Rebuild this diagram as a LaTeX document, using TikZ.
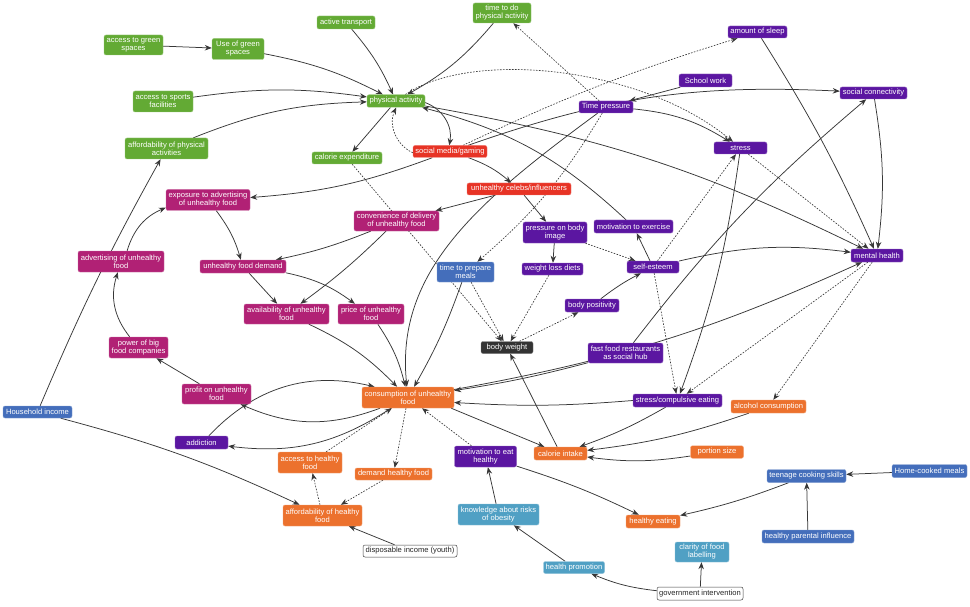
\documentclass[tikz,border=0pt]{standalone}
\usepackage{fontspec}
\setmainfont{Liberation Sans}
\usetikzlibrary{arrows.meta}
\pgfdeclarelayer{bg}
\pgfsetlayers{bg,main}
\definecolor{cgr}{RGB}{99,170,52}
\definecolor{cred}{RGB}{231,51,37}
\definecolor{cmag}{RGB}{177,33,117}
\definecolor{cpur}{RGB}{91,22,161}
\definecolor{cora}{RGB}{236,113,45}
\definecolor{cblu}{RGB}{68,110,187}
\definecolor{clbl}{RGB}{80,160,196}
\definecolor{cgry}{RGB}{51,51,51}
\definecolor{edgec}{RGB}{55,55,55}
\newcommand\nfnt{\fontsize{7.6}{8}\selectfont}
\tikzset{
 box/.style={rectangle, rounded corners=2pt, fill=#1, draw=#1!65!white, line width=0.4pt, text=white, font=\nfnt, align=center, inner xsep=1.5pt, inner ysep=1pt},
 wbox/.style={rectangle, rounded corners=2pt, fill=white, draw=black!75, line width=0.5pt, text=black!85, font=\nfnt, align=center, inner xsep=1.5pt, inner ysep=1pt},
 sz/.style 2 args={minimum width=#1pt, minimum height=#2pt},
 lnk/.style={draw=edgec, line width=0.75pt, -{Stealth[length=7pt,width=5.5pt]}},
 lnkd/.style={lnk, line width=0.65pt, dash pattern=on 1.6pt off 1.4pt},
}
\begin{document}
\begin{tikzpicture}[x=1pt,y=1pt]
\useasboundingbox (0,0) rectangle (970,-607);
% green
\node[box=cgr, sz={59}{20}] (gs) at (133.5,-45) {access to green\\spaces};
\node[box=cgr, sz={52}{21}] (ug) at (238,-49) {Use of green\\spaces};
\node[box=cgr, sz={58}{13}] (at) at (346,-22.5) {active transport};
\node[box=cgr, sz={58}{20}] (tpa) at (502,-13) {time to do\\physical activity};
\node[box=cgr, sz={60}{21}] (sf) at (163,-101.5) {access to sports\\facilities};
\node[box=cgr, sz={83}{21}] (apa) at (166.5,-148.5) {affordability of physical\\activities};
\node[box=cgr, sz={58}{12.5}] (pa) at (396,-101) {physical activity};
\node[box=cgr, sz={70}{12}] (ce) at (347,-158) {calorie expenditure};
% red
\node[box=cred, sz={74}{12}] (sm) at (450,-151.5) {social media/gaming};
\node[box=cred, sz={104}{12}] (uc) at (519,-189) {unhealthy celebs/influencers};
% magenta
\node[box=cmag, sz={84}{21}] (ea) at (208,-200) {exposure to advertising\\of unhealthy food};
\node[box=cmag, sz={85}{20}] (cd) at (396.5,-221) {convenience of delivery\\of unhealthy food};
\node[box=cmag, sz={86}{21}] (adv) at (121,-261.5) {advertising of unhealthy\\food};
\node[box=cmag, sz={86}{13}] (ud) at (243,-266.5) {unhealthy food demand};
\node[box=cmag, sz={85}{20}] (av) at (286.5,-314) {availability of unhealthy\\food};
\node[box=cmag, sz={66}{20}] (pr) at (371,-314) {price of unhealthy\\food};
\node[box=cmag, sz={59}{21}] (pw) at (138.5,-347.5) {power of big\\food companies};
\node[box=cmag, sz={69}{20}] (pf) at (216.5,-394) {profit on unhealthy\\food};
% blue
\node[box=cblu, sz={69}{12}] (hi) at (37.5,-412) {Household income};
\node[box=cblu, sz={57}{20}] (tp) at (465.5,-272) {time to prepare\\meals};
\node[box=cblu, sz={79}{13}] (tc) at (806.5,-476) {teenage cooking skills};
\node[box=cblu, sz={75}{13}] (hc) at (929.5,-471) {Home-cooked meals};
\node[box=cblu, sz={92}{13}] (hp) at (808,-536.5) {healthy parental influence};
% gray
\node[box=cgry, sz={52}{12}] (bw) at (507,-347.5) {body weight};
% purple
\node[box=cpur, sz={59}{12}] (sl) at (757.5,-32) {amount of sleep};
\node[box=cpur, sz={53}{13}] (sw) at (705.5,-80.5) {School work};
\node[box=cpur, sz={67}{12}] (sc) at (873.5,-93) {social connectivity};
\node[box=cpur, sz={54}{12}] (tpr) at (606,-107) {Time pressure};
\node[box=cpur, sz={53}{12}] (st) at (740.5,-148) {stress};
\node[box=cpur, sz={52}{13}] (mh) at (877,-255.5) {mental health};
\node[box=cpur, sz={79}{13}] (me) at (633.5,-226.5) {motivation to exercise};
\node[box=cpur, sz={52}{12}] (se) at (653,-267) {self-esteem};
\node[box=cpur, sz={64}{21}] (pb) at (555,-232.5) {pressure on body\\image};
\node[box=cpur, sz={61}{12}] (wl) at (552.5,-269) {weight loss diets};
\node[box=cpur, sz={54}{13}] (bp) at (592,-305.5) {body positivity};
\node[box=cpur, sz={75}{20}] (ff) at (625.5,-353) {fast food restaurants\\as social hub};
\node[box=cpur, sz={89}{13}] (sce) at (677.5,-400.5) {stress/compulsive eating};
\node[box=cpur, sz={53}{13}] (ad) at (201.5,-442.5) {addiction};
\node[box=cpur, sz={62}{21}] (meh) at (485.5,-456.5) {motivation to eat\\healthy};
% orange
\node[box=cora, sz={92}{21}] (cu) at (408,-397.5) {consumption of unhealthy\\food};
\node[box=cora, sz={64}{21}] (ah) at (310,-462.5) {access to healthy\\food};
\node[box=cora, sz={77}{12}] (dh) at (393.5,-474) {demand healthy food};
\node[box=cora, sz={79}{21}] (af) at (322.5,-515.5) {affordability of healthy\\food};
\node[box=cora, sz={53}{13}] (ci) at (560.5,-453.5) {calorie intake};
\node[box=cora, sz={53}{12.5}] (ps) at (717,-452) {portion size};
\node[box=cora, sz={75}{13}] (al) at (768.5,-406.5) {alcohol consumption};
\node[box=cora, sz={54}{13}] (he) at (653,-521.5) {healthy eating};
% light blue
\node[box=clbl, sz={81}{21}] (kr) at (498.5,-514.5) {knowledge about risks\\of obesity};
\node[box=clbl, sz={61}{12}] (hpm) at (574,-567.5) {health promotion};
\node[box=clbl, sz={54}{20}] (cl) at (702,-552) {clarity of food\\labelling};
% white
\node[wbox, sz={94}{12}] (di) at (410,-551) {disposable income (youth)};
\node[wbox, sz={86}{13}] (gi) at (700,-593.5) {government intervention};

\begin{pgfonlayer}{bg}
\fill[white] (0,0) rectangle (970,-607);
\draw[lnk] (gs) -- (ug);
\draw[lnk] (ug) to[bend left=8] (pa);
\draw[lnk] (at) to[bend left=8] (pa);
\draw[lnk] (tpa) to[bend left=10] (pa);
\draw[lnk] (sf) to[bend left=8] (pa);
\draw[lnk] (apa) to[bend left=10] (pa);
\draw[lnk] (pa) -- (ce);
\draw[lnk] (pa) to[bend left=40] (sm);
\draw[lnkd] (sm) to[bend left=45] (pa);
\draw[lnkd] (pa) .. controls (470,-50) and (640,-65) .. (st);
\draw[lnk] (pa) to[bend left=8] (mh);
\draw[lnk] (me) to[bend right=14] (pa);
\draw[lnk] (sm) to[bend left=8] (ea);
\draw[lnk] (sm) to[bend left=11] (sc);
\draw[lnk] (sm) to[bend left=10] (uc);
\draw[lnkd] (sm) to[bend left=4] (sl);
\draw[lnk] (uc) -- (cd);
\draw[lnk] (uc) -- (pb);
\draw[lnk] (tpr) .. controls (480,-200) and (395,-270) .. (cu);
\draw[lnkd] (tpr) to[bend left=9] (tp);
\draw[lnkd] (tpr) -- (tpa);
\draw[lnk] (tpr) to[bend left=13] (st);
\draw[lnk] (sw) -- (tpr);
\draw[lnk] (pb) -- (wl);
\draw[lnkd] (pb) -- (se);
\draw[lnk] (se) -- (me);
\draw[lnk] (se) to[bend left=10] (mh);
\draw[lnkd] (se) -- (st);
\draw[lnkd] (se) -- (sce);
\draw[lnk] (st) to[bend left=6] (sce);
\draw[lnkd] (mh) -- (sce);
\draw[lnkd] (mh) -- (al);
\draw[lnkd] (st) -- (mh);
\draw[lnk] (sl) to[bend left=4] (mh);
\draw[lnk] (sc) to[bend left=8] (mh);
\draw[lnk] (ff) to[bend left=6] (sc);
\draw[lnk] (ff) to[bend left=3] (cu);
\draw[lnk] (cu) to[bend right=7] (mh);
\draw[lnk] (sce.west) to[bend left=4] ([yshift=-5pt]cu.east);
\draw[lnk] (sce) to[bend left=5] (ci);
\draw[lnk] ([xshift=-3pt]cu.south east) -- (ci);
\draw[lnk] (al) to[bend left=6] (ci);
\draw[lnk] (ps) to[bend left=8] (ci);
\draw[lnk] (ci) -- (bw);
\draw[lnkd] (tp) -- (bw);
\draw[lnkd] (wl) -- (bw);
\draw[lnkd] (bw) -- (bp);
\draw[lnk] (bp) to[bend left=5] (se);
\draw[lnkd] (ce) -- (bw);
\draw[lnk] (tp) to[bend left=5] (cu);
\draw[lnk] (cd) to[bend left=5] (ud);
\draw[lnk] (cd) to[bend left=4] (av);
\draw[lnk] (ud) -- (av);
\draw[lnk] (ud) to[bend left=12] (pr);
\draw[lnk] (ea) to[bend left=10] (ud);
\draw[lnk] (adv) to[bend left=25] (ea);
\draw[lnk] (pw) to[bend left=28] (adv);
\draw[lnk] (pf) -- (pw);
\draw[lnk] (cu) to[bend left=22] (pf);
\draw[lnk] (ad) to[bend left=30] (cu);
\draw[lnk] (cu) to[bend left=20] (ad);
\draw[lnk] (av) to[bend left=10] (cu);
\draw[lnk] (pr) to[bend left=10] (cu);
\draw[lnkd] (cu) -- (dh);
\draw[lnkd] (ah) -- (cu);
\draw[lnkd] (dh) -- (af);
\draw[lnkd] (af) -- (ah);
\draw[lnk] (di) -- (af);
\draw[lnk] (hi) to[bend left=5] (af);
\draw[lnk] (hi) to[bend left=3] (apa);
\draw[lnkd] (meh) -- (cu);
\draw[lnk] (meh) to[bend left=4] (he);
\draw[lnk] (kr) -- (meh);
\draw[lnk] (hpm) -- (kr);
\draw[lnk] (gi) to[bend left=8] (hpm);
\draw[lnk] (gi) -- (cl);
\draw[lnk] (tc) to[bend left=4] (he);
\draw[lnk] (hc) -- (tc);
\draw[lnk] (hp) -- (tc);
\end{pgfonlayer}
\end{tikzpicture}
\end{document}
